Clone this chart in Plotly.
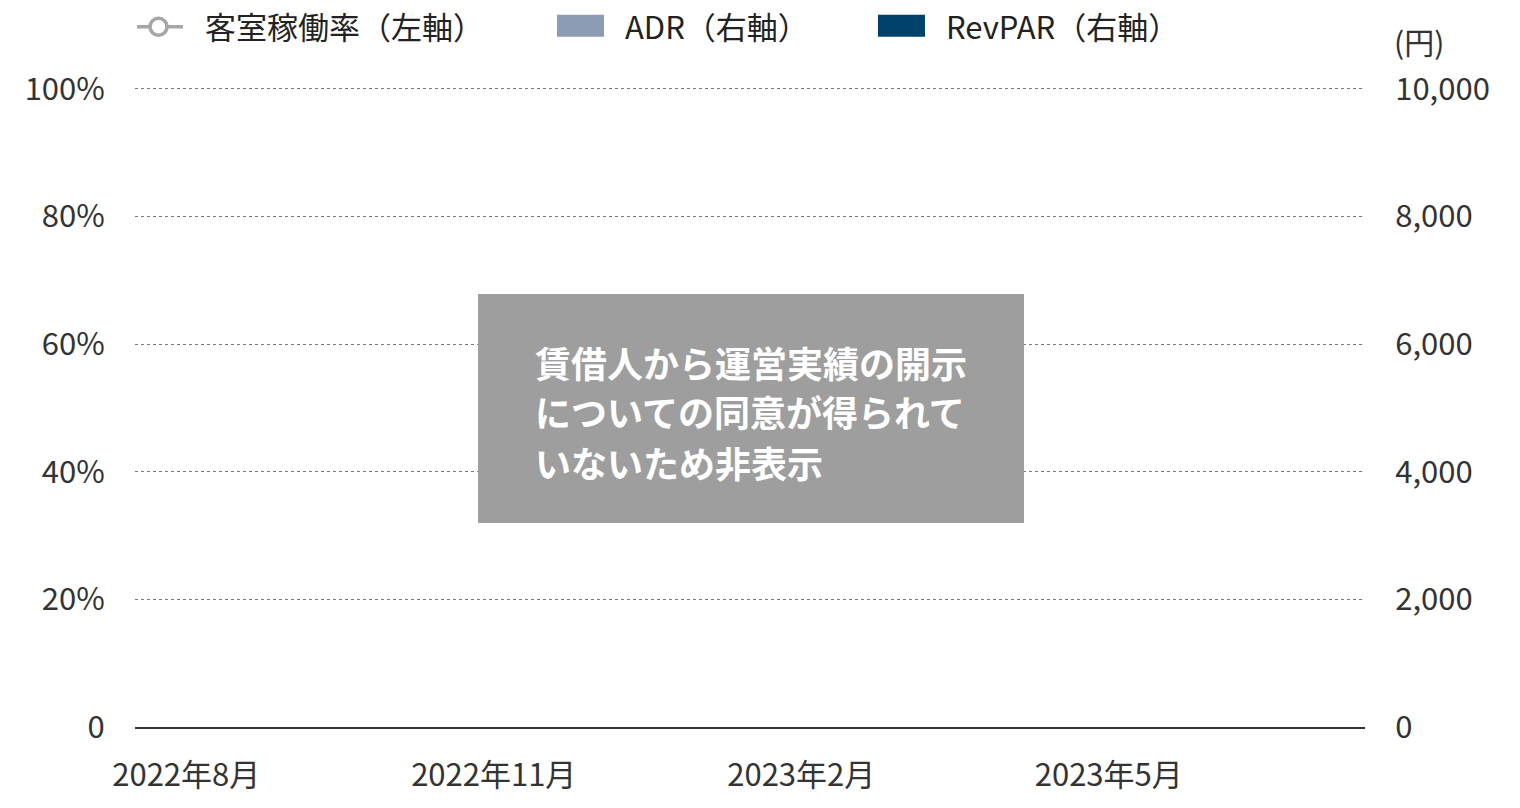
import plotly.graph_objects as go

# 月次カテゴリ（2022年8月〜2023年7月）
months = ["2022年8月", "2022年9月", "2022年10月", "2022年11月", "2022年12月", "2023年1月",
          "2023年2月", "2023年3月", "2023年4月", "2023年5月", "2023年6月", "2023年7月"]
tick_months = ["2022年8月", "2022年11月", "2023年2月", "2023年5月"]

# 実績は非開示のため値なし
occupancy = [None, None, None, None, None, None, None, None, None, None, None, None]
adr = [None, None, None, None, None, None, None, None, None, None, None, None]
revpar = [None, None, None, None, None, None, None, None, None, None, None, None]

pct_ticks = [0, 20, 40, 60, 80, 100]
pct_labels = ["0", "20%", "40%", "60%", "80%", "100%"]
yen_ticks = [0, 2000, 4000, 6000, 8000, 10000]

FONT = "Noto Sans CJK JP"
W, H = 1520, 808
# プロット領域（ピクセル）
L, R, T, B = 135, 1365, 89, 727
TOP = 100.6  # 100%の目盛線が切れないよう少し余裕を持たせる
T_AX = B - (B - T) * TOP / 100


def px(x):
    return (x - L) / (R - L)


def py(y):
    return (B - y) / (B - T_AX)


fig = go.Figure()
fig.add_trace(go.Bar(x=months, y=adr, name="ADR（右軸）", marker_color="#8e9bb5",
                     yaxis="y2", showlegend=False))
fig.add_trace(go.Bar(x=months, y=revpar, name="RevPAR（右軸）", marker_color="#00426b",
                     yaxis="y2", showlegend=False))
fig.add_trace(go.Scatter(x=months, y=occupancy, name="客室稼働率（左軸）", mode="lines+markers",
                         line=dict(color="#a6a6a6", width=3),
                         marker=dict(symbol="circle-open", size=14, color="#a6a6a6"),
                         showlegend=False))

shapes = []
annotations = []

# 凡例（手描き）
shapes.append(dict(type="line", xref="paper", yref="paper", x0=px(137), x1=px(183),
                   y0=py(27), y1=py(27), line=dict(color="#a6a6a6", width=3.5)))
shapes.append(dict(type="circle", xref="paper", yref="paper", x0=px(150), x1=px(167),
                   y0=py(35.5), y1=py(18.5), fillcolor="white",
                   line=dict(color="#a6a6a6", width=3.5)))
shapes.append(dict(type="rect", xref="paper", yref="paper", x0=px(557), x1=px(604),
                   y0=py(37), y1=py(15), fillcolor="#8e9bb5", line=dict(width=0)))
shapes.append(dict(type="rect", xref="paper", yref="paper", x0=px(878), x1=px(925),
                   y0=py(37), y1=py(15), fillcolor="#00426b", line=dict(width=0)))
for x, txt in [(203, "客室稼働率（左軸）"), (623, "ADR（右軸）"), (944, "RevPAR（右軸）")]:
    annotations.append(dict(text=txt, xref="paper", yref="paper", x=px(x), y=py(26),
                            xanchor="left", yanchor="middle", showarrow=False,
                            font=dict(family=FONT, size=31, color="#222")))

annotations.append(dict(text="(円)", xref="paper", yref="paper", x=px(1392), y=py(41),
                        xanchor="left", yanchor="middle", showarrow=False,
                        font=dict(family=FONT, size=30, color="#333")))

# 非表示の説明ボックス
shapes.append(dict(type="rect", xref="paper", yref="paper", x0=px(478), x1=px(1024),
                   y0=py(523), y1=py(294), fillcolor="#9d9e9d", line=dict(width=0), layer="above"))
for y, txt in [(362, "賃借人から運営実績の開示"), (411, "についての同意が得られて"), (462, "いないため非表示")]:
    annotations.append(dict(text="<b>" + txt + "</b>", xref="paper", yref="paper", x=px(533), y=py(y),
                            xanchor="left", yanchor="middle", showarrow=False,
                            font=dict(family=FONT, size=36, color="white")))

tick_font = dict(family=FONT, size=31, color="#333")

fig.update_layout(
    width=W, height=H,
    margin=dict(l=L, r=W - R, t=T_AX, b=H - B),
    paper_bgcolor="white", plot_bgcolor="white",
    font=dict(family=FONT, size=31, color="#333"),
    barmode="group",
    showlegend=False,
    xaxis=dict(type="category", categoryorder="array", categoryarray=months,
               range=[-0.5, 11.5], tickmode="array", tickvals=tick_months, ticktext=tick_months,
               showgrid=False, showline=True, linecolor="#333", linewidth=2,
               ticks="outside", ticklen=20, tickcolor="rgba(0,0,0,0)",
               tickfont=tick_font, fixedrange=True),
    yaxis=dict(range=[0, TOP], tickmode="array", tickvals=pct_ticks, ticktext=pct_labels,
               showgrid=True, gridcolor="#777", gridwidth=1.3, griddash="3px,3px",
               zeroline=False, showline=False,
               ticks="outside", ticklen=23, tickcolor="rgba(0,0,0,0)",
               tickfont=tick_font, fixedrange=True),
    yaxis2=dict(range=[0, TOP * 100], overlaying="y", side="right", tickmode="array",
                tickvals=yen_ticks, tickformat=",", showgrid=False, zeroline=False,
                ticks="outside", ticklen=23, tickcolor="rgba(0,0,0,0)",
                tickfont=tick_font, fixedrange=True),
    shapes=shapes,
    annotations=annotations,
)

# ページ既定の余白をなくして図を左上にぴったり置く
fig.write_html("out.html", config={"displayModeBar": False},
               post_script="document.body.style.margin='0';")
